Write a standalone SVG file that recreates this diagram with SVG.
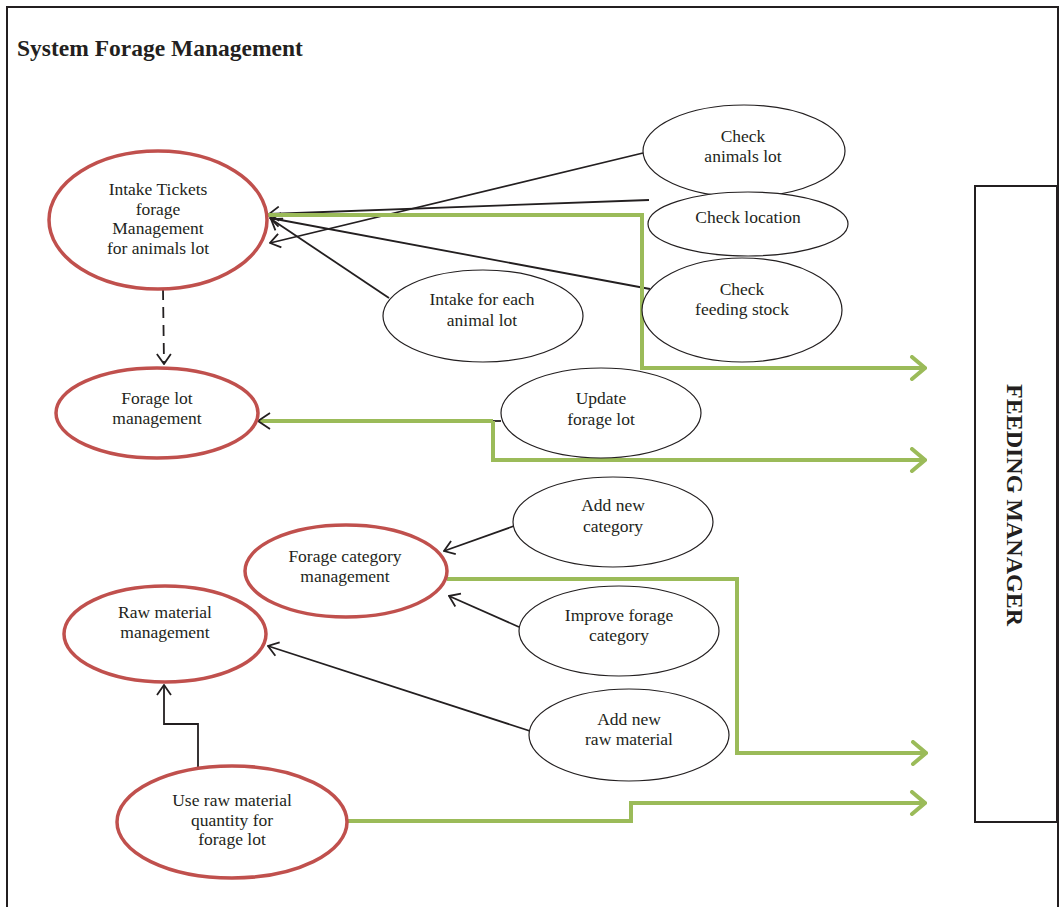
<svg xmlns="http://www.w3.org/2000/svg" width="1060" height="907" viewBox="0 0 1060 907" font-family="Liberation Serif, Times New Roman, serif">
<style>
.t{fill:#231f20;text-anchor:middle}
.red{fill:#fff;stroke:#c0504d;stroke-width:3.5}
.blk{fill:#fff;stroke:#231f20;stroke-width:1.2}
.ln{fill:none;stroke:#231f20;stroke-width:1.8}
.gr{fill:none;stroke:#9bbb59;stroke-width:4}
</style>
<defs>
<marker id="ab" markerUnits="userSpaceOnUse" viewBox="0 0 12 16" refX="11" refY="8" markerWidth="12" markerHeight="16" orient="auto">
<path d="M1,1 L11,8 L1,15" fill="none" stroke="#231f20" stroke-width="1.8"/>
</marker>
<marker id="ag" markerUnits="userSpaceOnUse" viewBox="0 0 18 26" refX="16" refY="13" markerWidth="18" markerHeight="26" orient="auto">
<path d="M3,2 L16,13 L3,24" fill="none" stroke="#9bbb59" stroke-width="4" stroke-linecap="round"/>
</marker>
</defs>
<rect width="1060" height="907" fill="#fff"/>
<path d="M7,907 V7 H1058 V907" fill="none" stroke="#231f20" stroke-width="2"/>
<text x="17" y="56" font-size="23.5" font-weight="bold" fill="#231f20">System Forage Management</text>

<g id="feeding-manager">
<rect x="975" y="186" width="82" height="636" fill="#fff" stroke="#231f20" stroke-width="2"/>
<text transform="translate(1015,505) rotate(90)" font-size="24" font-weight="bold" fill="#231f20" text-anchor="middle" dominant-baseline="central">FEEDING MANAGER</text>
</g>

<g id="connectors">
<path class="ln" d="M643,153 L270,243" marker-end="url(#ab)"/>
<path class="ln" d="M649,200 L269,214" marker-end="url(#ab)"/>
<path class="ln" d="M650,289 L270,218" marker-end="url(#ab)"/>
<path class="ln" d="M389,298 L271,219" marker-end="url(#ab)"/>
<path class="gr" d="M268,215 H642 V368 H925" marker-end="url(#ag)"/>
<path class="ln" d="M163,289 L164,364" stroke-dasharray="11,7" marker-end="url(#ab)"/>
<path class="ln" d="M493,421 H501"/>
<path class="gr" d="M493,421 H259"/>
<path d="M270,413 L258,421 L270,429" fill="none" stroke="#231f20" stroke-width="1.8"/>
<path class="gr" d="M493,421 V460 H925" marker-end="url(#ag)"/>
<path class="ln" d="M514,526 L444,551" marker-end="url(#ab)"/>
<path class="ln" d="M519,627 L449,596" marker-end="url(#ab)"/>
<path class="gr" d="M447,579 H737 V753 H926" marker-end="url(#ag)"/>
<path class="ln" d="M530,731 L268,646" marker-end="url(#ab)"/>
<path class="ln" d="M198,767 V724 H164 V685" marker-end="url(#ab)"/>
<path class="gr" d="M335,821 H631 V803 H925" marker-end="url(#ag)"/>
</g>

<g font-family="Liberation Serif" font-size="17.5">
<g id="intake-tickets">
<ellipse class="red" cx="158" cy="220" rx="109" ry="69"/>
<text class="t" x="158" y="195">Intake Tickets</text>
<text class="t" x="158" y="215">forage</text>
<text class="t" x="158" y="234">Management</text>
<text class="t" x="158" y="254">for animals lot</text>
</g>
<g id="forage-lot-management">
<ellipse class="red" cx="157" cy="413" rx="101" ry="45"/>
<text class="t" x="157" y="404">Forage lot</text>
<text class="t" x="157" y="424">management</text>
</g>
<g id="forage-category-management">
<ellipse class="red" cx="346" cy="571" rx="101" ry="46"/>
<text class="t" x="345" y="562">Forage category</text>
<text class="t" x="345" y="582">management</text>
</g>
<g id="raw-material-management">
<ellipse class="red" cx="165" cy="634" rx="101" ry="48"/>
<text class="t" x="165" y="618">Raw material</text>
<text class="t" x="165" y="638">management</text>
</g>
<g id="use-raw-material">
<ellipse class="red" cx="232" cy="822" rx="115" ry="56"/>
<text class="t" x="232" y="806">Use raw material</text>
<text class="t" x="232" y="826">quantity for</text>
<text class="t" x="232" y="845">forage lot</text>
</g>

<g id="check-animals-lot">
<ellipse class="blk" cx="744" cy="151" rx="101" ry="46"/>
<text class="t" x="743" y="142">Check</text>
<text class="t" x="743" y="162">animals lot</text>
</g>
<g id="check-location">
<ellipse class="blk" cx="748" cy="224" rx="100" ry="32"/>
<text class="t" x="748" y="223">Check location</text>
</g>
<g id="check-feeding-stock">
<ellipse class="blk" cx="742" cy="310" rx="100" ry="52"/>
<text class="t" x="742" y="295">Check</text>
<text class="t" x="742" y="315">feeding stock</text>
</g>
<g id="intake-each-lot">
<ellipse class="blk" cx="483" cy="316" rx="100" ry="46"/>
<text class="t" x="482" y="305">Intake for each</text>
<text class="t" x="482" y="326">animal lot</text>
</g>
<g id="update-forage-lot">
<ellipse class="blk" cx="601" cy="413" rx="100" ry="45"/>
<text class="t" x="601" y="404">Update</text>
<text class="t" x="601" y="425">forage lot</text>
</g>
<g id="add-new-category">
<ellipse class="blk" cx="613" cy="522" rx="100" ry="45"/>
<text class="t" x="613" y="511">Add new</text>
<text class="t" x="613" y="532">category</text>
</g>
<g id="improve-forage-category">
<ellipse class="blk" cx="619" cy="631" rx="100" ry="45"/>
<text class="t" x="619" y="621">Improve forage</text>
<text class="t" x="619" y="641">category</text>
</g>
<g id="add-new-raw-material">
<ellipse class="blk" cx="629" cy="735" rx="100" ry="46"/>
<text class="t" x="629" y="725">Add new</text>
<text class="t" x="629" y="745">raw material</text>
</g>
</g>
</svg>
